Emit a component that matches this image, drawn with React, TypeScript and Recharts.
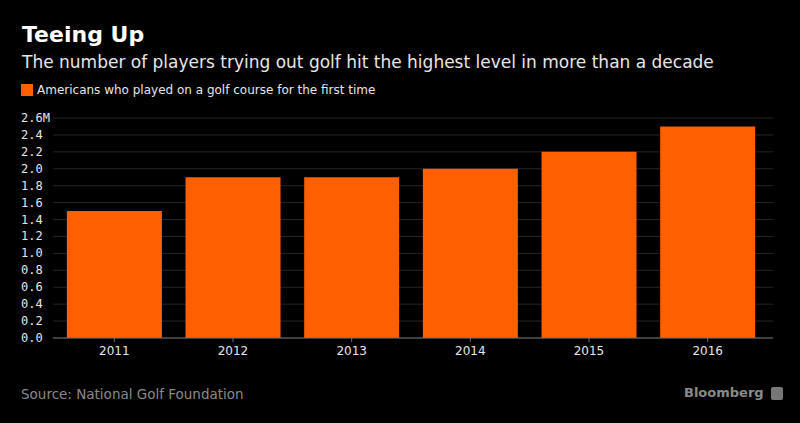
import React from "react";
import { BarChart, Bar, XAxis, YAxis, CartesianGrid } from "recharts";

const years = ["2011", "2012", "2013", "2014", "2015", "2016"];
const firstTimers = [1.5, 1.9, 1.9, 2.0, 2.2, 2.5];
const yTicks = [0, 0.2, 0.4, 0.6, 0.8, 1.0, 1.2, 1.4, 1.6, 1.8, 2.0, 2.2, 2.4, 2.6];

const data = years.map((y, i) => ({ year: y, value: firstTimers[i] }));

const C = {
  bg: "#000000",
  bar: "#ff5f00",
  grid: "#262626",
  axis: "#6e6e6e",
  text: "#e6e6e6",
  dim: "#8a8a8a",
  sans: "'DejaVu Sans', sans-serif",
  mono: "'DejaVu Sans Mono', monospace",
};

function YTick(props: any) {
  const { y, payload } = props;
  const v: number = payload.value;
  const label = v === 2.6 ? "2.6M" : v.toFixed(1);
  return (
    <text x={21} y={y} dy={4} textAnchor="start" fill={C.text} fontFamily={C.mono} fontSize={12}>
      {label}
    </text>
  );
}

export default function App() {
  return (
    <div style={{ position: "absolute", left: 0, top: 0, width: 800, height: 423, background: C.bg, overflow: "hidden" }}>
      <div style={{ position: "absolute", left: 22, top: 22, color: "#fff", fontFamily: C.sans, fontWeight: "bold", fontSize: 22, lineHeight: "26px" }}>
        Teeing Up
      </div>
      <div style={{ position: "absolute", left: 22, top: 51, color: C.text, fontFamily: C.sans, fontSize: 17, lineHeight: "22px" }}>
        The number of players trying out golf hit the highest level in more than a decade
      </div>
      <div style={{ position: "absolute", left: 21, top: 84, width: 12, height: 12, background: C.bar }} />
      <div style={{ position: "absolute", left: 37, top: 82, color: C.text, fontFamily: C.sans, fontSize: 12, lineHeight: "16px" }}>
        Americans who played on a golf course for the first time
      </div>
      <div style={{ position: "absolute", left: 0, top: 0 }}>
        <BarChart
          width={800}
          height={423}
          data={data}
          margin={{ top: 118, right: 27, bottom: 55, left: 0 }}
          barCategoryGap="10%"
        >
          <CartesianGrid stroke={C.grid} vertical={false} />
          <XAxis
            dataKey="year"
            padding={{ left: 2, right: 6 }}
            axisLine={{ stroke: C.axis }}
            tickLine={{ stroke: C.axis }}
            tickSize={4}
            tickMargin={4}
            tick={{ fill: C.text, fontFamily: C.sans, fontSize: 12 }}
          />
          <YAxis
            width={53}
            domain={[0, 2.6]}
            ticks={yTicks}
            interval={0}
            axisLine={false}
            tickLine={false}
            tick={<YTick />}
          />
          <Bar dataKey="value" fill={C.bar} isAnimationActive={false} />
        </BarChart>
      </div>
      <div style={{ position: "absolute", left: 21, top: 386, color: C.dim, fontFamily: C.sans, fontSize: 13.5, lineHeight: "16px" }}>
        Source: National Golf Foundation
      </div>
      <div style={{ position: "absolute", left: 684, top: 384, color: C.dim, fontFamily: C.sans, fontWeight: "bold", fontSize: 13, lineHeight: "18px" }}>
        Bloomberg
      </div>
      <div style={{ position: "absolute", left: 771, top: 387, width: 12, height: 13, background: "#777", borderRadius: 2 }} />
    </div>
  );
}
